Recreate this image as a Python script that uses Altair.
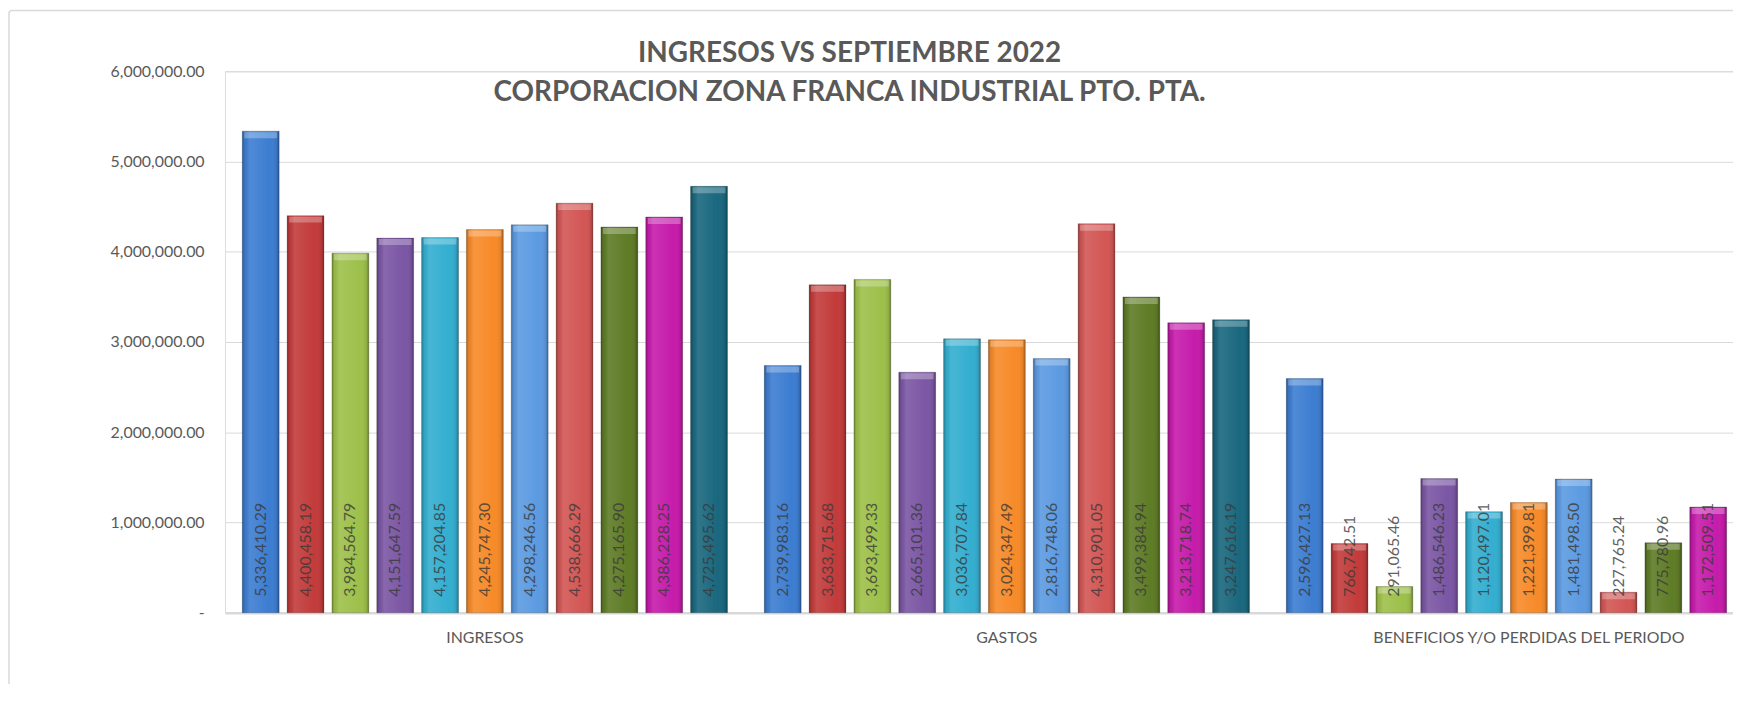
import altair as alt
import pandas as pd

groups = ["INGRESOS", "GASTOS", "BENEFICIOS Y/O PERDIDAS DEL PERIODO"]
series = ["2012", "2013", "2014", "2015", "2016", "2017", "2018", "2019", "2020", "2021", "2022"]
ingresos = [5336410.29, 4400458.19, 3984564.79, 4151647.59, 4157204.85, 4245747.30,
            4298246.56, 4538666.29, 4275165.90, 4386228.25, 4725495.62]
gastos = [2739983.16, 3633715.68, 3693499.33, 2665101.36, 3036707.84, 3024347.49,
          2816748.06, 4310901.05, 3499384.94, 3213718.74, 3247616.19]
beneficios = [2596427.13, 766742.51, 291065.46, 1486546.23, 1120497.01, 1221399.81,
              1481498.50, 227765.24, 775780.96, 1172509.51, 1477879.43]
colors = ["#3C7DD1", "#C23B3A", "#9DC04A", "#7B56A4", "#33AED0", "#F78A28",
          "#5B9AE1", "#D25654", "#5E7B25", "#C61BAB", "#19677E"]
y_ticks = [0, 1000000, 2000000, 3000000, 4000000, 5000000, 6000000]

rows = []
for g, vals in zip(groups, [ingresos, gastos, beneficios]):
    for s, v in zip(series, vals):
        rows.append({"grupo": g, "serie": s, "valor": v})
df = pd.DataFrame(rows)

FONT = "Lato"
GRAY = "#595959"

x_enc = alt.X(
    "grupo:N", sort=groups,
    scale=alt.Scale(range=[0, 1571], paddingInner=0.0553, paddingOuter=0.0255),
    axis=alt.Axis(title=None, labelAngle=0, ticks=False, grid=False,
                  domainColor="#d9d9d9", domainWidth=2.5, labelLimit=600,
                  labelFont=FONT, labelFontSize=16, labelColor=GRAY, labelPadding=17),
)
xoff_enc = alt.XOffset("serie:N", sort=series,
                       scale=alt.Scale(paddingInner=0.178, paddingOuter=0.089))

bars = alt.Chart(df).mark_bar(stroke="#000000", strokeOpacity=0.2, strokeWidth=1).encode(
    x=x_enc,
    xOffset=xoff_enc,
    y=alt.Y("valor:Q",
            scale=alt.Scale(domain=[0, 6000000], nice=False),
            axis=alt.Axis(title=None, values=y_ticks, ticks=False, domain=False,
                          gridColor="#d9d9d9", gridWidth=1,
                          labelExpr="datum.value == 0 ? '-\u00a0\u00a0\u00a0\u00a0\u00a0' : format(datum.value, ',.2f')",
                          labelFont=FONT, labelFontSize=16, labelColor=GRAY, labelPadding=21)),
    color=alt.Color("serie:N", sort=series, scale=alt.Scale(domain=series, range=colors), legend=None),
)

shade = {
    "gradient": "linear", "x1": 0, "x2": 1, "y1": 0, "y2": 0,
    "stops": [
        {"offset": 0.0, "color": "rgba(0,0,0,0.28)"},
        {"offset": 0.07, "color": "rgba(0,0,0,0.06)"},
        {"offset": 0.2, "color": "rgba(255,255,255,0.10)"},
        {"offset": 0.75, "color": "rgba(255,255,255,0.0)"},
        {"offset": 0.93, "color": "rgba(0,0,0,0.08)"},
        {"offset": 1.0, "color": "rgba(0,0,0,0.32)"},
    ],
}
bevel = alt.Chart(df).mark_bar(fill=shade, strokeWidth=0).encode(
    x=x_enc, xOffset=xoff_enc, y=alt.Y("valor:Q"),
)
caps = alt.Chart(df).mark_tick(thickness=6, size=33, yOffset=4, color="white", opacity=0.28).encode(
    x=x_enc, xOffset=xoff_enc, y=alt.Y("valor:Q"),
)

labels = alt.Chart(df).mark_text(
    angle=270, align="left", baseline="middle", dx=16,
    font=FONT, fontSize=16, color="#3a3a3a", opacity=0.8,
).encode(
    x=x_enc,
    xOffset=xoff_enc,
    y=alt.datum(0),
    text=alt.Text("valor:Q", format=",.2f"),
)

frame = alt.Chart(pd.DataFrame({"k": [0]})).mark_rect(
    fill=None, stroke="#d9d9d9", strokeWidth=1.5, cornerRadius=3,
).encode(
    x=alt.value(-217), x2=alt.value(1800), y=alt.value(-61), y2=alt.value(900),
)

chart = alt.layer(frame, bars, bevel, caps, labels).properties(
    width=1515, height=544,
    title=alt.TitleParams(
        text=["INGRESOS VS SEPTIEMBRE 2022", "CORPORACION ZONA FRANCA INDUSTRIAL PTO. PTA."],
        font=FONT, fontSize=28, fontWeight="bold", color=GRAY,
        lineHeight=40, anchor="middle", dx=-130, dy=98, offset=0,
    ),
    autosize=alt.AutoSizeParams(type="none"),
    padding={"left": 218, "top": 62, "right": 0, "bottom": 70},
).configure_view(stroke=None).configure(background="white")

chart.save("out.html", embed_options={"renderer": "svg", "actions": False})
